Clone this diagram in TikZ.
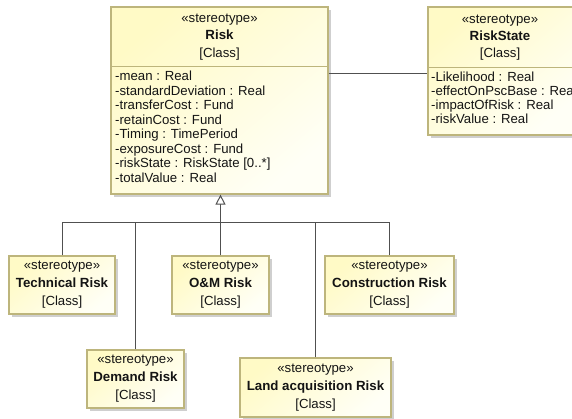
\documentclass[tikz,border=0pt]{standalone}
\usepackage{fontspec}
\setmainfont{Liberation Sans}
\usetikzlibrary{arrows.meta,shadows}
\definecolor{boxfill}{HTML}{FFFAC6}
\definecolor{boxfillb}{HTML}{FFFFF6}
\definecolor{boxline}{HTML}{BDB57C}
\definecolor{connc}{HTML}{505050}
\definecolor{shadowc}{HTML}{A8A8A8}
\definecolor{txt}{HTML}{141414}
\tikzset{
  classbox/.style={draw=boxline, line width=1.2pt, top color=boxfill, bottom color=boxfillb,
    shading angle=40, inner sep=0pt,
    drop shadow={shadow xshift=3pt, shadow yshift=-3pt, fill=shadowc, opacity=0.55}},
  tx/.style={inner sep=0pt, text=txt, text height=0.72em, text depth=0.22em, font=\fontsize{13.2}{15}\selectfont},
  cname/.style={tx, font=\fontsize{13.3}{15}\selectfont\bfseries},
  attr/.style={tx, anchor=west},
  sepline/.style={draw=boxline, line width=1pt},
  connector/.style={draw=connc, line width=1pt},
}
\begin{document}
\begin{tikzpicture}[x=1pt,y=-1pt]
\path[use as bounding box] (0,0) rectangle (572,418);
\clip (0,0) rectangle (572,418);

% Risk
\node[classbox, minimum width=217pt, minimum height=187pt] (risk) at (219.5,100.5) {};
\node[tx] (riskS) at (219.5,20) {«stereotype»};
\node[cname] (riskN) at (219.5,37) {Risk};
\node[tx] (riskC) at (219.5,55) {[Class]};
\draw[sepline] (risk.west |- 0,66) coordinate (rs1) -- (risk.east |- rs1);
\node[attr] (ra1) at (115,78) {-mean : Real};
\node[attr] (ra2) at (115,92.5) {-standardDeviation : Real};
\node[attr] (ra3) at (115,107) {-transferCost : Fund};
\node[attr] (ra4) at (115,121.5) {-retainCost : Fund};
\node[attr] (ra5) at (115,136) {-Timing : TimePeriod};
\node[attr] (ra6) at (115,150.5) {-exposureCost : Fund};
\node[attr] (ra7) at (115,165) {-riskState : RiskState [0..*]};
\node[attr] (ra8) at (115,179.5) {-totalValue : Real};

% RiskState
\node[classbox, minimum width=146pt, minimum height=128pt] (rstate) at (501,71) {};
\node[tx] (rsS) at (500,21) {«stereotype»};
\node[cname] (rsN) at (500,38) {RiskState};
\node[tx] (rsC) at (500,55) {[Class]};
\draw[sepline] (rstate.west |- 0,67) coordinate (rs2) -- (rstate.east |- rs2);
\node[attr] (sa1) at (431,79) {-Likelihood : Real};
\node[attr] (sa2) at (431,93) {-effectOnPscBase : Real};
\node[attr] (sa3) at (431,107) {-impactOfRisk : Real};
\node[attr] (sa4) at (431,121) {-riskValue : Real};

% association
\coordinate (assoc) at (0,73);
\draw[connector] (risk.east |- assoc) -- (rstate.west |- assoc);

% subclasses
\node[classbox, minimum width=106pt, minimum height=58pt] (tech) at (62,285) {};
\node[tx] (techS) at (62,267) {«stereotype»};
\node[cname] (techN) at (62,285) {Technical Risk};
\node[tx] (techC) at (62,303) {[Class]};

\node[classbox, minimum width=97pt, minimum height=58pt] (om) at (220.5,285) {};
\node[tx] (omS) at (220.5,267) {«stereotype»};
\node[cname] (omN) at (220.5,285) {O\&M Risk};
\node[tx] (omC) at (220.5,303) {[Class]};

\node[classbox, minimum width=129pt, minimum height=58pt] (cons) at (389.5,285) {};
\node[tx] (consS) at (389.5,267) {«stereotype»};
\node[cname] (consN) at (389.5,285) {Construction Risk};
\node[tx] (consC) at (389.5,303) {[Class]};

\node[classbox, minimum width=97pt, minimum height=58pt] (dem) at (135.5,379) {};
\node[tx] (demS) at (135.5,361) {«stereotype»};
\node[cname] (demN) at (135.5,379) {Demand Risk};
\node[tx] (demC) at (135.5,397) {[Class]};

\node[classbox, minimum width=151pt, minimum height=59pt] (land) at (315.5,387.5) {};
\node[tx] (landS) at (315.5,370) {«stereotype»};
\node[cname] (landN) at (315.5,387.5) {Land acquisition Risk};
\node[tx] (landC) at (315.5,405.5) {[Class]};

% generalization tree
\coordinate (bus) at (0,222);
\draw[connector] (tech.north) -- (tech.north |- bus);
\draw[connector] (dem.north) -- (dem.north |- bus);
\draw[connector] (land.north) -- (land.north |- bus);
\draw[connector] (cons.north) -- (cons.north |- bus);
\draw[connector] (tech.north |- bus) -- (cons.north |- bus);
\draw[connector, -{Triangle[open, fill=white, width=10pt, length=10pt]}] (om.north) -- (om.north |- risk.south);
\end{tikzpicture}
\end{document}
